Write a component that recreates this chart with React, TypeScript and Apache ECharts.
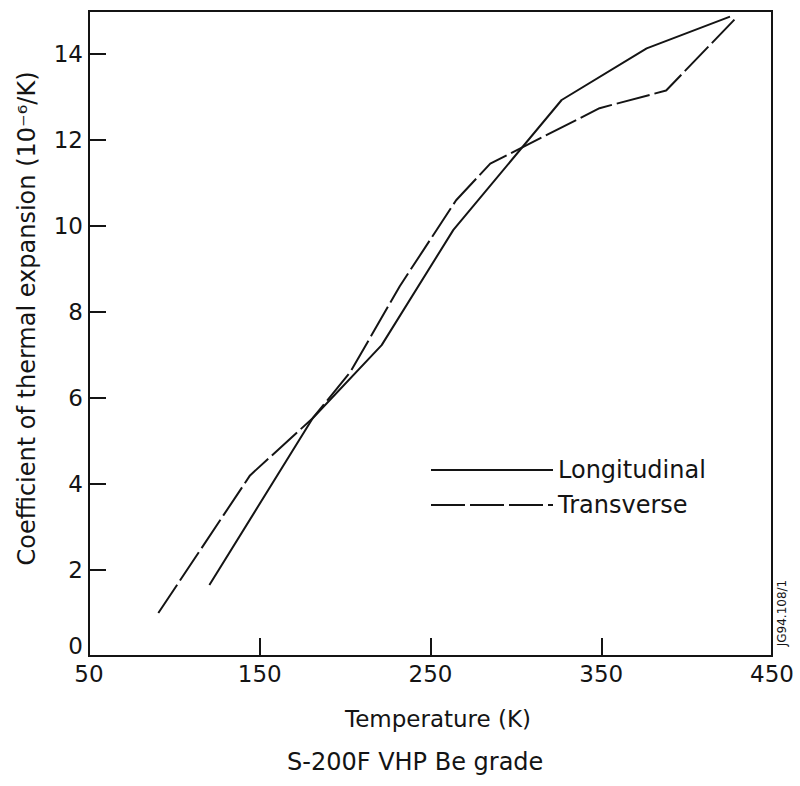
import React, { useEffect, useRef } from "react";
import * as echarts from "echarts";

// Temperature (K) and coefficient of thermal expansion (10^-6/K)
const longitudinalT = [120.5, 181, 221.4, 263.4, 326.8, 376.6, 425.4];
const longitudinalCTE = [1.65, 5.53, 7.23, 9.91, 12.93, 14.13, 14.87];
const transverseT = [90.6, 144.3, 181, 203, 232, 265, 285, 349, 388, 428];
const transverseCTE = [1.0, 4.2, 5.53, 6.6, 8.6, 10.6, 11.45, 12.74, 13.15, 14.8];

const seriesNames = ["Longitudinal", "Transverse"];
const xAxisTitle = "Temperature (K)";
const yAxisTitle = "Coefficient of thermal expansion (10⁻⁶/K)";
const subtitle = "S-200F VHP Be grade";
const figureCode = "JG94.108/1";

const INK = "#141414";
const FONT = "DejaVu Sans";

export default function App() {
  const ref = useRef<HTMLDivElement>(null);

  useEffect(() => {
    if (!ref.current) return;
    const chart = echarts.init(ref.current, undefined, { renderer: "svg" });
    const longData = longitudinalT.map((t, i) => [t, longitudinalCTE[i]]);
    const transData = transverseT.map((t, i) => [t, transverseCTE[i]]);

    chart.setOption({
      animation: false,
      backgroundColor: "#ffffff",
      textStyle: { fontFamily: FONT, color: INK },
      grid: {
        left: 89,
        top: 11,
        right: 28,
        bottom: 130,
        show: true,
        borderColor: INK,
        borderWidth: 2,
        containLabel: false,
      },
      legend: {
        orient: "vertical",
        left: 425,
        top: 453,
        itemWidth: 122,
        itemHeight: 14,
        itemGap: 11,
        itemStyle: { opacity: 0 },
        textStyle: { fontFamily: FONT, fontSize: 24, color: INK },
        data: seriesNames,
      },
      xAxis: {
        type: "value",
        min: 50,
        max: 450,
        interval: 100,
        name: xAxisTitle,
        nameLocation: "middle",
        nameGap: 51,
        nameTextStyle: {
          fontFamily: FONT,
          fontSize: 23,
          color: INK,
          padding: [0, 0, 0, 15],
        },
        axisLine: { show: true, lineStyle: { color: INK, width: 2 } },
        axisTick: {
          show: true,
          inside: true,
          length: 18,
          lineStyle: { color: INK, width: 2 },
        },
        axisLabel: {
          fontFamily: FONT,
          fontSize: 23,
          color: INK,
          margin: 6,
        },
        splitLine: { show: false },
      },
      yAxis: {
        type: "value",
        min: 0,
        max: 15,
        interval: 2,
        name: yAxisTitle,
        nameLocation: "middle",
        nameGap: 50,
        nameTextStyle: {
          fontFamily: FONT,
          fontSize: 24,
          color: INK,
          padding: [0, 0, 0, 30],
        },
        axisLine: { show: true, lineStyle: { color: INK, width: 2 } },
        axisTick: {
          show: true,
          inside: true,
          length: 17,
          lineStyle: { color: INK, width: 2 },
        },
        axisLabel: {
          fontFamily: FONT,
          fontSize: 23,
          color: INK,
          margin: 6,
          formatter: (v: number) => {
            if (v === 15) return "";
            if (v === 0) return "{z|0}";
            return String(v);
          },
          rich: {
            z: {
              fontFamily: FONT,
              fontSize: 23,
              color: INK,
              padding: [0, 0, 20, 0],
            },
          },
        },
        splitLine: { show: false },
      },
      series: [
        {
          name: seriesNames[0],
          type: "line",
          data: longData,
          symbol: "none",
          showSymbol: false,
          lineStyle: { color: INK, width: 2, type: "solid" },
          itemStyle: { color: INK },
        },
        {
          name: seriesNames[1],
          type: "line",
          data: transData,
          symbol: "none",
          showSymbol: false,
          lineStyle: { color: INK, width: 2, type: [34, 5] },
          itemStyle: { color: INK },
        },
      ],
      graphic: [
        {
          type: "text",
          left: 425 - 138,
          top: 750,
          style: {
            text: subtitle,
            fontFamily: FONT,
            fontSize: 24,
            fill: INK,
          },
        },
        {
          type: "text",
          x: 782,
          y: 613,
          rotation: Math.PI / 2,
          style: {
            text: figureCode,
            fontFamily: FONT,
            fontSize: 12,
            fill: INK,
            align: "center",
            verticalAlign: "middle",
          },
        },
      ],
    });

    return () => {
      chart.dispose();
    };
  }, []);

  return (
    <div
      ref={ref}
      style={{
        position: "fixed",
        left: 0,
        top: 0,
        width: 800,
        height: 786,
        background: "#fff",
      }}
    />
  );
}
